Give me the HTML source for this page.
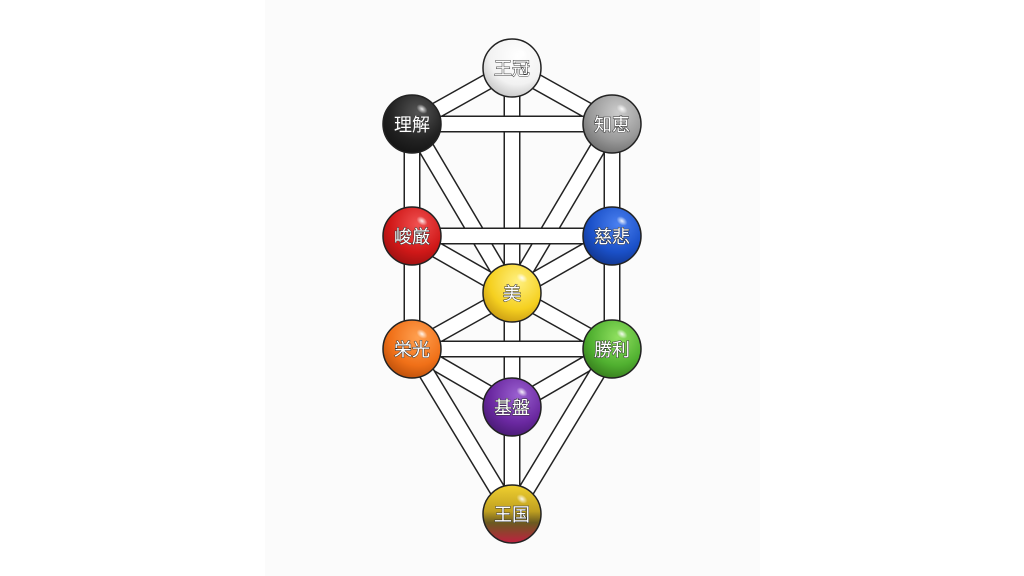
<!DOCTYPE html>
<html><head><meta charset="utf-8"><style>
html,body{margin:0;padding:0;background:#fff;width:1024px;height:576px;overflow:hidden}
text{font-family:"Liberation Sans","Noto Sans CJK JP",sans-serif;font-size:18px;fill:#fff;stroke:#333;stroke-width:1px;paint-order:stroke;text-anchor:middle;dominant-baseline:central}
</style></head><body>
<svg width="1024" height="576" viewBox="0 0 1024 576" xmlns="http://www.w3.org/2000/svg">
<defs>
<radialGradient id="gw" cx="0.6" cy="0.3" r="0.8"><stop offset="0" stop-color="#fff"/><stop offset="0.6" stop-color="#f2f2f2"/><stop offset="1" stop-color="#bbb"/></radialGradient>
<radialGradient id="gk" cx="0.6" cy="0.3" r="0.8"><stop offset="0" stop-color="#555"/><stop offset="0.6" stop-color="#222"/><stop offset="1" stop-color="#111"/></radialGradient>
<radialGradient id="gg" cx="0.6" cy="0.3" r="0.8"><stop offset="0" stop-color="#ccc"/><stop offset="0.6" stop-color="#999"/><stop offset="1" stop-color="#666"/></radialGradient>
<radialGradient id="gr" cx="0.6" cy="0.3" r="0.8"><stop offset="0" stop-color="#f05050"/><stop offset="0.6" stop-color="#d01818"/><stop offset="1" stop-color="#901010"/></radialGradient>
<radialGradient id="gb" cx="0.6" cy="0.3" r="0.8"><stop offset="0" stop-color="#4a80f0"/><stop offset="0.6" stop-color="#1a50c8"/><stop offset="1" stop-color="#103080"/></radialGradient>
<radialGradient id="gy" cx="0.6" cy="0.3" r="0.8"><stop offset="0" stop-color="#fff080"/><stop offset="0.6" stop-color="#f5d020"/><stop offset="1" stop-color="#c09010"/></radialGradient>
<radialGradient id="go" cx="0.6" cy="0.3" r="0.8"><stop offset="0" stop-color="#ffa050"/><stop offset="0.6" stop-color="#f07018"/><stop offset="1" stop-color="#b04808"/></radialGradient>
<radialGradient id="gn" cx="0.6" cy="0.3" r="0.8"><stop offset="0" stop-color="#90e060"/><stop offset="0.6" stop-color="#50b030"/><stop offset="1" stop-color="#307018"/></radialGradient>
<radialGradient id="gp" cx="0.6" cy="0.3" r="0.8"><stop offset="0" stop-color="#9a60d0"/><stop offset="0.6" stop-color="#6a28a0"/><stop offset="1" stop-color="#401868"/></radialGradient>
<linearGradient id="gm" x1="0" y1="0" x2="0" y2="1"><stop offset="0" stop-color="#f0d030"/><stop offset="0.45" stop-color="#c0a020"/><stop offset="0.65" stop-color="#6a5a20"/><stop offset="1" stop-color="#c02040"/></linearGradient>
<radialGradient id="hl" cx="0.5" cy="0.5" r="0.5"><stop offset="0" stop-color="#fff" stop-opacity="0.9"/><stop offset="1" stop-color="#fff" stop-opacity="0"/></radialGradient>
</defs>
<rect x="265" y="0" width="495" height="576" fill="#fbfbfb"/>
<g id="paths"></g>
<g id="nodes"></g>
</svg>
<script>
var N={1:[512,68],2:[612,124],3:[412,124],4:[612,236],5:[412,236],6:[512,293],7:[612,349],8:[412,349],9:[512,407],10:[512,514]};
var E=[[1,2],[1,3],[3,6],[2,6],[5,6],[4,6],[6,8],[6,7],[8,9],[7,9],[8,10],[7,10],[3,5],[2,4],[5,8],[4,7],[1,6],[6,9],[9,10],[2,3],[4,5],[7,8]];
var g=document.getElementById('paths'),s='';
E.forEach(function(e){var a=N[e[0]],b=N[e[1]];
s+='<line x1="'+a[0]+'" y1="'+a[1]+'" x2="'+b[0]+'" y2="'+b[1]+'" stroke="#222" stroke-width="17"/>';
s+='<line x1="'+a[0]+'" y1="'+a[1]+'" x2="'+b[0]+'" y2="'+b[1]+'" stroke="#fff" stroke-width="14"/>';});
g.innerHTML=s;
var L={1:['王冠','gw'],2:['知恵','gg'],3:['理解','gk'],4:['慈悲','gb'],5:['峻厳','gr'],6:['美','gy'],7:['勝利','gn'],8:['栄光','go'],9:['基盤','gp'],10:['王国','gm']};
var h='';
for(var k in N){var p=N[k];
h+='<circle cx="'+p[0]+'" cy="'+p[1]+'" r="29" fill="url(#'+L[k][1]+')" stroke="#222" stroke-width="1.5"/>';
h+='<ellipse cx="'+(p[0]+10)+'" cy="'+(p[1]-15)+'" rx="6" ry="4" transform="rotate(35 '+(p[0]+10)+' '+(p[1]-15)+')" fill="url(#hl)"/>';
h+='<text x="'+p[0]+'" y="'+(p[1]+1)+'">'+L[k][0]+'</text>';}
document.getElementById('nodes').innerHTML=h;
</script>
</body></html>
